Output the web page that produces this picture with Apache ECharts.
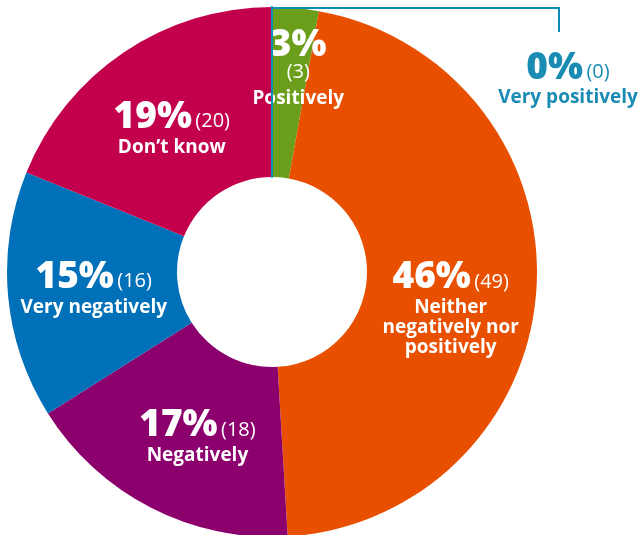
<!DOCTYPE html>
<html>
<head>
<meta charset="utf-8">
<script src="https://cdn.jsdelivr.net/npm/echarts@6/dist/echarts.min.js"></script>
<style>
  html, body { margin: 0; padding: 0; background: #ffffff; }
  #chart { width: 642px; height: 535px; }
</style>
</head>
<body>
<div id="chart"></div>
<script>
// Survey answers, clockwise from the top of the ring
const categories = ['Very positively', 'Positively', 'Neither negatively nor positively', 'Negatively', 'Very negatively', 'Don\u2019t know'];
const labelText = ['Very positively', 'Positively', 'Neither\nnegatively nor\npositively', 'Negatively', 'Very negatively', 'Don\u2019t know'];
const counts = [0, 3, 49, 18, 16, 20];
const sliceColors = ['#0a8db6', '#6b9f1b', '#e85000', '#8c006e', '#0070b9', '#c2004b'];

const total = counts.reduce((a, b) => a + b, 0);
const CX = 272, CY = 272, R_IN = 95, R_OUT = 265;
const FONT = '"Open Sans", Lato, sans-serif';

// small nudges of the in-slice label blocks
const labelNudge = [[0, 0], [10, -18], [-4, 25], [9, 1], [4, -1], [2, 7]];

function labelFor(i) {
  const pct = Math.round(counts[i] / total * 100);
  if (i === 1) return '{q|' + pct + '%}\n{m|(' + counts[i] + ')}\n{k|' + labelText[i] + '}';
  const lines = labelText[i].split('\n').map(s => '{l|' + s + '}').join('\n');
  return '{p|' + pct + '%} {n|(' + counts[i] + ')}\n' + lines;
}

const richFor = (c) => ({
  p: { fontFamily: FONT, fontSize: 37, fontWeight: 800, color: c, lineHeight: 40 },
  n: { fontFamily: FONT, fontSize: 20, fontWeight: 400, color: c, lineHeight: 40, padding: [8, 0, 0, 0] },
  l: { fontFamily: FONT, fontSize: 19, fontWeight: 700, color: c, lineHeight: 20 },
  q: { fontFamily: FONT, fontSize: 37, fontWeight: 800, color: c, lineHeight: 34 },
  m: { fontFamily: FONT, fontSize: 20, fontWeight: 400, color: c, lineHeight: 20 },
  k: { fontFamily: FONT, fontSize: 19, fontWeight: 700, color: c, lineHeight: 32 }
});

const data = categories.map((name, i) => ({
  name: name,
  value: counts[i],
  itemStyle: i === 0
    ? { color: sliceColors[i], borderColor: sliceColors[i], borderWidth: 2 }
    : { color: sliceColors[i] },
  label: {
    color: i === 0 ? sliceColors[0] : '#ffffff',
    rich: richFor(i === 0 ? '#1a8cb3' : '#ffffff')
  }
}));

const chart = echarts.init(document.getElementById('chart'), null, { renderer: 'canvas' });
chart.setOption({
  backgroundColor: '#ffffff',
  animation: false,
  series: [{
    type: 'pie',
    center: [CX, CY],
    radius: [R_IN, R_OUT],
    startAngle: 90,
    clockwise: true,
    avoidLabelOverlap: false,
    silent: true,
    data: data,
    label: {
      show: true,
      position: 'inside',
      align: 'center',
      formatter: (p) => labelFor(p.dataIndex)
    },
    labelLine: { show: false },
    labelLayout: (params) => {
      const i = params.dataIndex;
      if (i === 0) {
        return { x: 568, y: 78, align: 'center', verticalAlign: 'middle' };
      }
      return { dx: labelNudge[i][0], dy: labelNudge[i][1] };
    }
  }],
  graphic: [{
    type: 'polyline',
    silent: true,
    z: 10,
    shape: { points: [[CX, CY - R_IN], [CX, CY - R_OUT + 1], [559, CY - R_OUT + 1], [559, 32]] },
    style: { stroke: sliceColors[0], lineWidth: 2, fill: null }
  }]
});
</script>
</body>
</html>
